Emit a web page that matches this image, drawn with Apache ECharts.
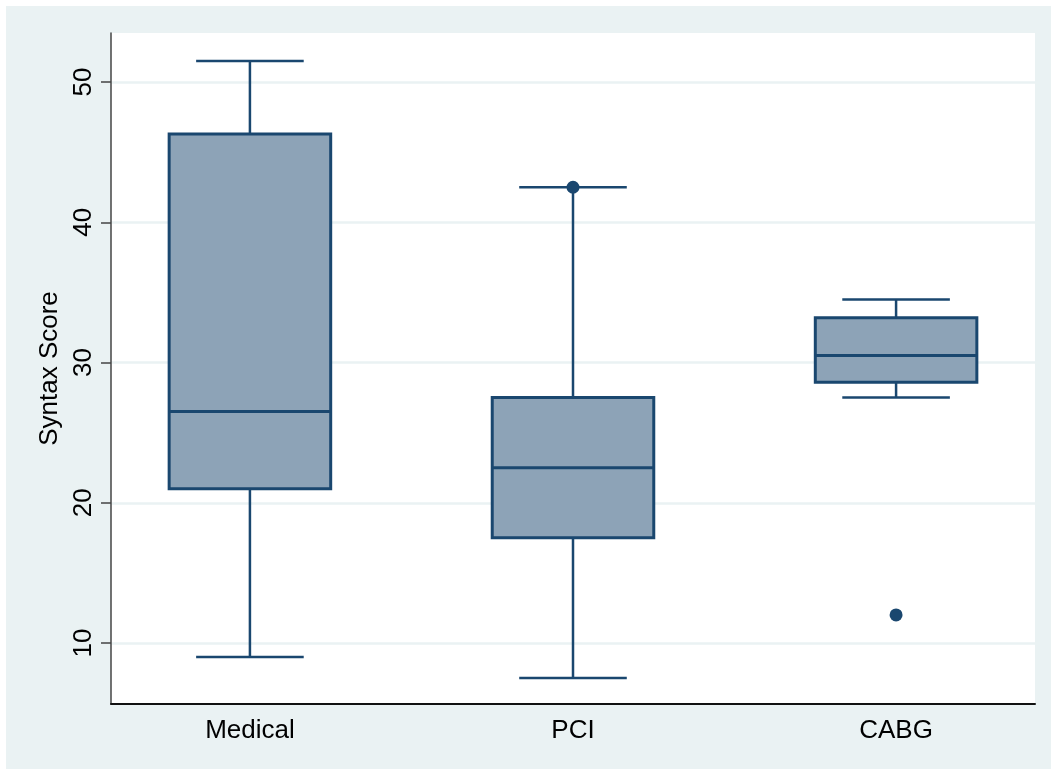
<!DOCTYPE html>
<html>
<head>
<meta charset="utf-8">
<script src="https://cdn.jsdelivr.net/npm/echarts@6/dist/echarts.min.js"></script>
<style>
  html, body { margin: 0; padding: 0; background: #fff; }
  #chart { width: 1051px; height: 769px; }
</style>
</head>
<body>
<div id="chart"></div>
<script>
// Treatment groups and box-plot summaries of the Syntax Score
const categories = ['Medical', 'PCI', 'CABG'];
const whiskerLow = [9.0, 7.5, 27.5];
const quartile1 = [21.0, 17.5, 28.6];
const medians = [26.5, 22.5, 30.5];
const quartile3 = [46.3, 27.5, 33.2];
const whiskerHigh = [51.5, 42.5, 34.5];
// Outside values: [group index, score]
const outliers = [[1, 42.5], [2, 12.0]];
const yTicks = [10, 20, 30, 40, 50];

const NAVY = '#1A476F';
const BOX_FILL = '#8DA3B7';
const BG = '#EAF2F3';

const boxData = categories.map((c, i) => [i + 1, whiskerLow[i], quartile1[i], medians[i], quartile3[i], whiskerHigh[i]]);
const outlierData = outliers.map(o => [o[0] + 1, o[1]]);

const chart = echarts.init(document.getElementById('chart'), null, { renderer: 'canvas' });

function renderBox(params, api) {
  const x = api.value(0);
  const pLo = api.coord([x, api.value(1)]);
  const pQ1 = api.coord([x, api.value(2)]);
  const pMed = api.coord([x, api.value(3)]);
  const pQ3 = api.coord([x, api.value(4)]);
  const pHi = api.coord([x, api.value(5)]);
  const boxW = api.size([0.5, 0])[0];
  const capW = api.size([0.333, 0])[0];
  const cx = pMed[0];
  const lineStyle = { stroke: NAVY, lineWidth: 2.5 };
  return {
    type: 'group',
    children: [
      { type: 'line', shape: { x1: cx, y1: pQ3[1], x2: cx, y2: pHi[1] }, style: lineStyle },
      { type: 'line', shape: { x1: cx, y1: pQ1[1], x2: cx, y2: pLo[1] }, style: lineStyle },
      { type: 'line', shape: { x1: cx - capW / 2, y1: pHi[1], x2: cx + capW / 2, y2: pHi[1] }, style: lineStyle },
      { type: 'line', shape: { x1: cx - capW / 2, y1: pLo[1], x2: cx + capW / 2, y2: pLo[1] }, style: lineStyle },
      { type: 'rect', shape: { x: cx - boxW / 2, y: pQ3[1], width: boxW, height: pQ1[1] - pQ3[1] },
        style: { fill: BOX_FILL, stroke: NAVY, lineWidth: 3 } },
      { type: 'line', shape: { x1: cx - boxW / 2, y1: pMed[1], x2: cx + boxW / 2, y2: pMed[1] },
        style: { stroke: NAVY, lineWidth: 3 } }
    ]
  };
}

chart.setOption({
  animation: false,
  backgroundColor: '#fff',
  graphic: [{
    type: 'rect', left: 6, top: 6, z: -10,
    shape: { width: 1100, height: 800 },
    style: { fill: BG }
  }],
  grid: {
    left: 111, top: 33, right: 16, bottom: 65,
    show: true, backgroundColor: '#fff', borderWidth: 0
  },
  xAxis: {
    type: 'value', min: 0.57, max: 3.43,
    axisLine: { show: true, lineStyle: { color: '#111', width: 2 } },
    axisTick: { show: false },
    splitLine: { show: false },
    axisLabel: {
      customValues: [1, 2, 3],
      formatter: v => categories[Math.round(v) - 1],
      fontFamily: 'Liberation Sans, Arial, sans-serif',
      fontSize: 26, color: '#000', margin: 14
    }
  },
  yAxis: {
    type: 'value', min: 5.65, max: 53.5,
    name: 'Syntax Score', nameLocation: 'middle', nameGap: 47, nameRotate: 90,
    nameTextStyle: { fontFamily: 'Liberation Sans, Arial, sans-serif', fontSize: 26, color: '#000' },
    axisLine: { show: true, lineStyle: { color: '#444', width: 1.5 } },
    axisTick: { show: true, customValues: yTicks, length: 10, lineStyle: { color: '#444', width: 1.5 } },
    splitLine: { show: true, lineStyle: { color: BG, width: 2.5 } },
    axisLabel: {
      customValues: yTicks, rotate: 90, margin: 14,
      fontFamily: 'Liberation Sans, Arial, sans-serif', fontSize: 26, color: '#000'
    }
  },
  series: [
    {
      type: 'custom', name: 'box', renderItem: renderBox, data: boxData,
      encode: { x: 0, y: [1, 2, 3, 4, 5] }, z: 3
    },
    {
      type: 'scatter', name: 'outside', data: outlierData,
      symbol: 'circle', symbolSize: 13,
      itemStyle: { color: NAVY, opacity: 1 }, z: 4
    }
  ]
});
</script>
</body>
</html>
